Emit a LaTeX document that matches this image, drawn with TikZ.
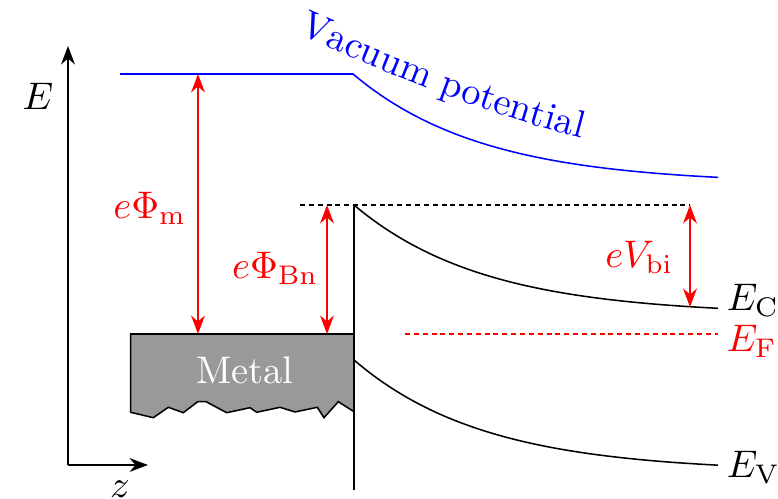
\documentclass[tikz,border=0pt]{standalone}
\usetikzlibrary{arrows.meta,decorations.text}
\begin{document}
\begin{tikzpicture}[x=0.26pt,y=-0.26pt,
  axisarrow/.style={-{Stealth}},
  redarrow/.style={{Stealth}-{Stealth},red},
  band/.style={black},
  lbl/.style={inner sep=0pt},
  dsh/.style={dash pattern=on 1.3pt off 1pt}]
\useasboundingbox (0,0) rectangle (778,499);
% axes
\coordinate (O) at (68,465);
\coordinate (Etop) at (68,46);
\coordinate (zend) at (148,465);
\draw[axisarrow] (O) -- (Etop);
\draw[axisarrow] (O) -- (zend);
\node[lbl] (Elab) at (38,96) {$E$};
\node[lbl] (zlab) at (120,489) {$z$};
% vacuum potential
\coordinate (vacL) at (120,74);
\coordinate (vacK) at (353,74);
\draw[blue] (vacL) -- (vacK) -- plot[domain=0:365,samples=80] ({353+\x},{74+110*(1-exp(-\x/130))});
\path[decorate,decoration={text along path,text color=blue,
   text={Vacuum potential}}]
   (298,34) .. controls (380,70) and (475,112) .. (600,143);
% metal block
\fill[black!40] (130.7,334) -- (354,334) -- (354,411.7) -- (338.3,401.7) -- (324,417.7)
  -- (317.3,407.3) -- (295,412) -- (280,407.3) -- (256.7,412.3) -- (250,407.7)
  -- (226.7,412.7) -- (206,401.7) -- (197.7,401.7) -- (183.3,412.7) -- (168.3,407.3)
  -- (153.3,417.7) -- (130.7,412.3) -- cycle;
\draw (354,411.7) -- (338.3,401.7) -- (324,417.7)
  -- (317.3,407.3) -- (295,412) -- (280,407.3) -- (256.7,412.3) -- (250,407.7)
  -- (226.7,412.7) -- (206,401.7) -- (197.7,401.7) -- (183.3,412.7) -- (168.3,407.3)
  -- (153.3,417.7) -- (130.7,412.3) -- (130.7,334) -- (354,334);
\node[lbl,white] (metal) at (245,370) {Metal};
% interface line
\coordinate (itop) at (354,205);
\coordinate (ibot) at (354,490);
\draw (itop) -- (ibot);
% bands
\draw[band] plot[domain=0:364,samples=80] ({354+\x},{205+110*(1-exp(-\x/130))});
\draw[band] plot[domain=0:364,samples=80] ({354+\x},{360+112*(1-exp(-\x/130))});
\node[lbl,anchor=west] (EC) at (726,300) {$E_{\mathrm{C}}$};
\node[lbl,anchor=west] (EV) at (726,467) {$E_{\mathrm{V}}$};
% Fermi level
\coordinate (fL) at (405,334);
\coordinate (fR) at (718,334);
\draw[red,dsh] (fL) -- (fR);
\node[lbl,anchor=west,red] (EF) at (726,341) {$E_{\mathrm{F}}$};
% barrier dashed
\coordinate (dL) at (300,205);
\coordinate (dR) at (690,205);
\draw[dsh] (dL) -- (dR);
% arrows
\coordinate (m1) at (198,74);
\coordinate (m2) at (198,334);
\draw[redarrow] (m1) -- (m2);
\node[lbl,red,anchor=east] (phim) at (187,208) {$e\Phi_{\mathrm{m}}$};
\coordinate (b1) at (327,205);
\coordinate (b2) at (327,334);
\draw[redarrow] (b1) -- (b2);
\node[lbl,red,anchor=east] (phib) at (319,268) {$e\Phi_{\mathrm{Bn}}$};
\coordinate (v1) at (690,205);
\coordinate (v2) at (690,307);
\draw[redarrow] (v1) -- (v2);
\node[lbl,red,anchor=east] (vbi) at (674,257) {$eV_{\mathrm{bi}}$};
\end{tikzpicture}
\end{document}
